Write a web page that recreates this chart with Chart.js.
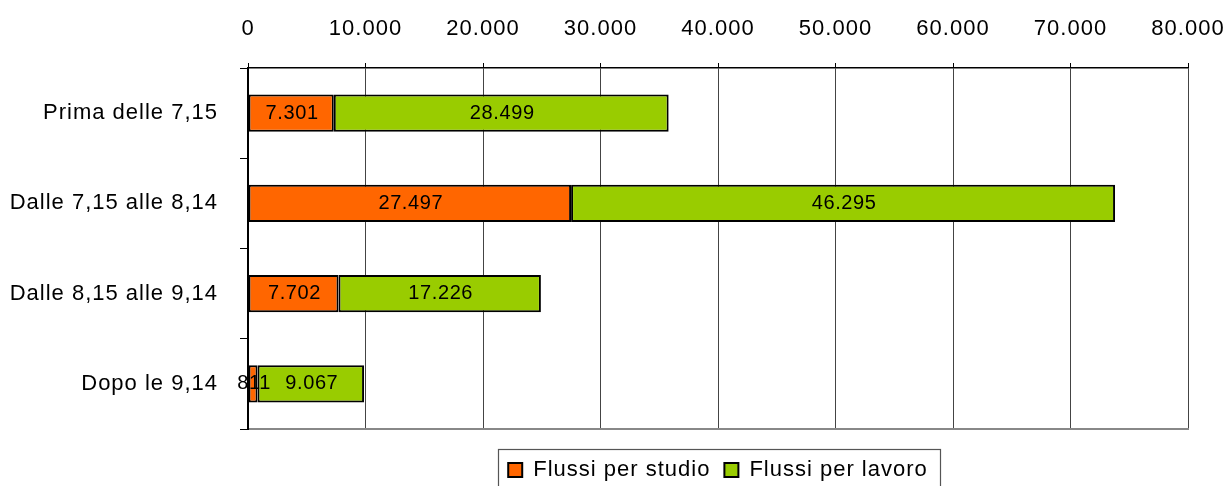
<!DOCTYPE html>
<html>
<head>
<meta charset="utf-8">
<script src="https://cdn.jsdelivr.net/npm/chart.js@4.4.1/dist/chart.umd.min.js"></script>
<style>
  html, body { margin: 0; padding: 0; background: #ffffff; }
  #wrap { width: 1229px; height: 486px; position: relative; }
</style>
</head>
<body>
<div id="wrap"><canvas id="chart" width="1229" height="486"></canvas></div>
<script>
// Fasce orarie di partenza
const categories = ['Prima delle 7,15', 'Dalle 7,15 alle 8,14', 'Dalle 8,15 alle 9,14', 'Dopo le 9,14'];
// Flussi per motivo dello spostamento
const flussiStudio = [7301, 27497, 7702, 811];
const flussiLavoro = [28499, 46295, 17226, 9067];
// Scala dell'asse dei valori
const axisMin = 0;
const axisMax = 80000;
const axisStep = 10000;

const FONT = "'Liberation Sans', Arial, sans-serif";
const SPACING = '1px';

// Numeri con il punto come separatore delle migliaia
function fmt(v) {
  return String(Math.round(v)).replace(/\B(?=(\d{3})+(?!\d))/g, '.');
}

// Leggera spaziatura delle lettere per tutti i testi
const spacingPlugin = {
  id: 'spacing',
  beforeUpdate(chart) { chart.ctx.letterSpacing = SPACING; },
  beforeDraw(chart) { chart.ctx.letterSpacing = SPACING; }
};

// Etichette dei valori al centro di ogni segmento
const valueLabels = {
  id: 'valueLabels',
  afterDatasetsDraw(chart) {
    const ctx = chart.ctx;
    ctx.save();
    ctx.letterSpacing = '0.6px';
    ctx.font = '20px ' + FONT;
    ctx.fillStyle = '#000000';
    ctx.textAlign = 'center';
    ctx.textBaseline = 'middle';
    chart.data.datasets.forEach((ds, di) => {
      const meta = chart.getDatasetMeta(di);
      meta.data.forEach((bar, i) => {
        const p = bar.getProps(['x', 'y', 'base'], true);
        const cx = (p.x + p.base) / 2 + 1;
        ctx.fillText(fmt(ds.data[i]), cx, p.y);
      });
    });
    ctx.restore();
  }
};

// Cornice della legenda
const legendFrame = {
  id: 'legendFrame',
  afterDraw(chart) {
    const lg = chart.legend;
    if (!lg || !lg.legendHitBoxes || !lg.legendHitBoxes.length) return;
    const boxes = lg.legendHitBoxes;
    const left = Math.min(...boxes.map(b => b.left)) - 10;
    const right = Math.max(...boxes.map(b => b.left + b.width)) + 12;
    const top = Math.min(...boxes.map(b => b.top)) - 10;
    const ctx = chart.ctx;
    ctx.save();
    ctx.strokeStyle = '#555555';
    ctx.lineWidth = 1.2;
    ctx.strokeRect(Math.round(left) + 0.5, Math.round(top) + 0.5, Math.round(right - left), 60);
    ctx.restore();
  }
};

new Chart(document.getElementById('chart'), {
  type: 'bar',
  data: {
    labels: categories,
    datasets: [
      {
        label: 'Flussi per studio',
        data: flussiStudio,
        backgroundColor: '#FF6600',
        borderColor: '#000000',
        borderWidth: 2,
        borderSkipped: false,
        categoryPercentage: 1,
        barPercentage: 0.41
      },
      {
        label: 'Flussi per lavoro',
        data: flussiLavoro,
        backgroundColor: '#99CC00',
        borderColor: '#000000',
        borderWidth: 2,
        borderSkipped: false,
        categoryPercentage: 1,
        barPercentage: 0.41
      }
    ]
  },
  options: {
    indexAxis: 'y',
    responsive: false,
    animation: false,
    devicePixelRatio: 1,
    layout: { padding: { top: 0, right: 41, bottom: -5, left: 0 } },
    plugins: {
      tooltip: { enabled: false },
      legend: {
        position: 'bottom',
        fullSize: false,
        labels: {
          color: '#000000',
          font: { family: FONT, size: 22 },
          boxWidth: 14,
          boxHeight: 14,
          padding: 14
        }
      }
    },
    scales: {
      x: {
        position: 'top',
        stacked: true,
        min: axisMin,
        max: axisMax,
        afterFit(s) { s.height = 68; s.paddingRight = 0; s.paddingLeft = 0; },
        ticks: {
          stepSize: axisStep,
          color: '#000000',
          font: { family: FONT, size: 22 },
          padding: 21,
          callback: v => fmt(v)
        },
        grid: {
          color: '#444444',
          lineWidth: 1,
          tickLength: 5,
          drawTicks: true,
          tickColor: '#000000'
        },
        border: { color: '#000000', width: 1.5 }
      },
      xb: {
        type: 'linear',
        position: 'bottom',
        min: axisMin,
        max: axisMax,
        afterFit(s) { s.height = 16; s.paddingRight = 0; s.paddingLeft = 0; },
        ticks: { display: false },
        grid: { drawOnChartArea: false, drawTicks: false },
        border: { color: '#888888', width: 2 }
      },
      y: {
        stacked: true,
        afterFit(s) { s.width = 248; },
        ticks: {
          color: '#000000',
          font: { family: FONT, size: 22 },
          padding: 22
        },
        grid: {
          offset: true,
          drawOnChartArea: false,
          drawTicks: true,
          tickLength: 8,
          tickColor: '#000000',
          lineWidth: 1
        },
        border: { color: '#000000', width: 2 }
      }
    }
  },
  plugins: [spacingPlugin, valueLabels, legendFrame]
});
</script>
</body>
</html>
